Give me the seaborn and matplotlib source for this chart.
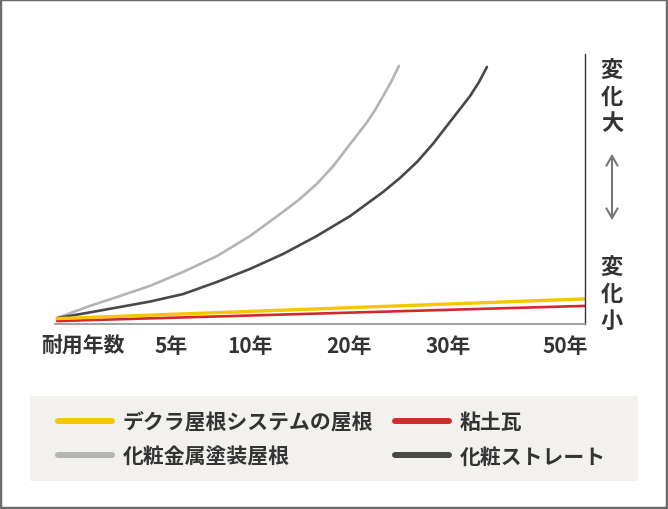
import matplotlib
matplotlib.use("Agg")
import matplotlib.pyplot as plt
import matplotlib.patches as mpatches
import seaborn as sns
import pandas as pd

# ---- data (conceptual degradation curves, axis units 0-100) ----
series_names = ["デクラ屋根システムの屋根", "化粧金属塗装屋根", "粘土瓦", "化粧ストレート"]
series_colors = ["#f7c600", "#b4b4b4", "#d3282c", "#484848"]

decra_x = [0.4, 100]
decra_y = [2.0, 9.3]

metal_x = [0.4, 6.0, 11.7, 17.9, 24.2, 30.6, 36.8, 43.0, 46.2, 49.4, 52.5, 55.7,
           58.9, 60.4, 61.9, 63.4, 64.9]
metal_y = [2.2, 6.3, 10.0, 14.1, 19.3, 25.2, 32.6, 41.5, 46.3, 51.9, 58.5, 66.7,
           74.8, 79.3, 84.4, 89.6, 95.6]

clay_x = [0.4, 100]
clay_y = [1.1, 6.7]

slate_x = [0.4, 6.0, 11.7, 17.9, 24.2, 30.6, 36.8, 43.0, 49.4, 55.7, 61.9, 65.1,
           68.3, 71.3, 74.5, 76.4, 78.3, 80.0, 81.5]
slate_y = [2.2, 4.1, 6.1, 8.3, 11.1, 15.6, 20.4, 25.9, 32.6, 40.0, 48.9, 54.1,
           60.0, 66.7, 74.8, 79.6, 84.4, 89.6, 95.2]

tick_pos = [5.3, 21.9, 36.8, 55.5, 74.2, 96.2]
tick_labels = ["耐用年数", "5年", "10年", "20年", "30年", "50年"]

top_label = "変化大"
bottom_label = "変化小"

# ---- style ----
sns.set_style("white")
plt.rcParams["font.family"] = ["Noto Sans CJK JP", "DejaVu Sans"]
TEXT = "#333333"

W, H = 668, 510
fig = plt.figure(figsize=(W / 100, H / 100), dpi=100)
ax = fig.add_axes([55 / W, (H - 325) / H, 530 / W, 270 / H])

df_metal = pd.DataFrame({"x": metal_x, "y": metal_y})
df_slate = pd.DataFrame({"x": slate_x, "y": slate_y})
df_clay = pd.DataFrame({"x": clay_x, "y": clay_y})
df_decra = pd.DataFrame({"x": decra_x, "y": decra_y})

sns.lineplot(data=df_metal, x="x", y="y", color=series_colors[1], lw=1.9,
             label=series_names[1], ax=ax)
sns.lineplot(data=df_slate, x="x", y="y", color=series_colors[3], lw=1.9,
             label=series_names[3], ax=ax)
sns.lineplot(data=df_clay, x="x", y="y", color=series_colors[2], lw=1.9,
             label=series_names[2], ax=ax)
sns.lineplot(data=df_decra, x="x", y="y", color=series_colors[0], lw=2.4,
             label=series_names[0], ax=ax)
for ln in ax.get_lines():
    ln.set_solid_joinstyle("round")

ax.set_xlim(0, 100)
ax.set_ylim(0, 100)
ax.set_xlabel("")
ax.set_ylabel("")
ax.set_yticks([])
ax.set_xticks(tick_pos)
ax.set_xticklabels(tick_labels, fontsize=15, fontweight="bold", color=TEXT)
ax.tick_params(axis="x", length=0, pad=8)

for s in ["top", "left"]:
    ax.spines[s].set_visible(False)
ax.spines["bottom"].set_color("#9a9a9a")
ax.spines["bottom"].set_linewidth(1.3)
ax.spines["right"].set_color("#333333")
ax.spines["right"].set_linewidth(1.0)

# ---- legend ----
handles, labels = ax.get_legend_handles_labels()
order = [labels.index(n) for n in series_names]  # decra, metal, clay, slate
handles = [handles[i] for i in order]
labels = [labels[i] for i in order]
if ax.get_legend():
    ax.get_legend().remove()

fig.patches.append(mpatches.Rectangle((30 / W, (H - 482) / H), 608 / W, 85 / H,
                                      transform=fig.transFigure, facecolor="#f2f1ee",
                                      edgecolor="none", zorder=0))
leg = fig.legend(handles, labels, ncol=2, loc="upper left",
                 bbox_to_anchor=(58 / W, 1 - 412 / H), frameon=False,
                 borderpad=0, borderaxespad=0, handlelength=2.6, handletextpad=0.5,
                 columnspacing=1.05, labelspacing=0.65,
                 prop={"size": 15, "weight": "bold"})
for t in leg.get_texts():
    t.set_color(TEXT)
for ln in leg.get_lines():
    ln.set_linewidth(4.3)
    ln.set_solid_capstyle("round")

# ---- right side labels ----
fig.text(612 / W, 1 - 97 / H, "\n".join(top_label), ha="center", va="center",
         fontsize=16, fontweight="bold", color=TEXT, linespacing=1.22)
fig.text(612 / W, 1 - 294 / H, "\n".join(bottom_label), ha="center", va="center",
         fontsize=16, fontweight="bold", color=TEXT, linespacing=1.22)
fig.patches.append(mpatches.FancyArrowPatch((612 / W, 1 - 152 / H), (612 / W, 1 - 224 / H),
                                            transform=fig.transFigure,
                                            arrowstyle="<->,head_length=7,head_width=4",
                                            color="#777777", lw=1.5))

# ---- outer frame ----
fig.patches.append(mpatches.Rectangle((0, 0), 1, 1, transform=fig.transFigure,
                                      fill=False, edgecolor="#6b6b6b", lw=3.2, zorder=10))

fig.savefig("out.png", dpi=100)
